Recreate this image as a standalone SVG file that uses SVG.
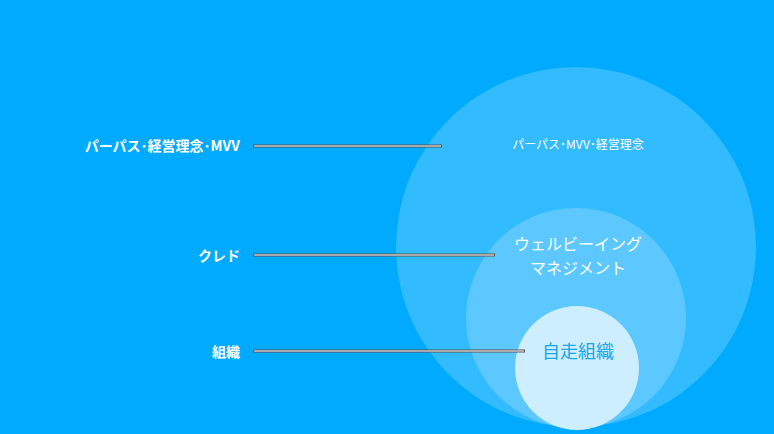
<svg xmlns="http://www.w3.org/2000/svg" width="774" height="434" viewBox="0 0 774 434">
<style>
text{font-family:"Noto Sans CJK JP","Noto Sans",sans-serif}
.lbl{fill:#fff;font-size:14px;font-weight:bold;text-anchor:end}
.o{stroke:#555;stroke-width:3}
.i{stroke:#fff;stroke-width:1}
</style>
<rect width="774" height="434" fill="#00AAFF"/>
<g id="purpose"><circle cx="576" cy="247" r="180" fill="#33BBFF"/><text x="578" y="149" fill="#fff" font-size="12" text-anchor="middle">パーパス･MVV･経営理念</text></g>
<g id="wellbeing"><circle cx="576" cy="318" r="110" fill="#5CC8FF"/><text x="578" y="250" fill="#fff" font-size="16" text-anchor="middle">ウェルビーイング</text><text x="578" y="274" fill="#fff" font-size="16" text-anchor="middle">マネジメント</text></g>
<g id="org"><circle cx="577" cy="368" r="62" fill="#CCEEFF"/><text x="578" y="358" fill="#1AA5E8" font-size="18" text-anchor="middle">自走組織</text></g>
<g id="labels"><text class="lbl" x="240" y="151">パーパス･経営理念･MVV</text><text class="lbl" x="240" y="261">クレド</text><text class="lbl" x="240" y="357">組織</text></g>
<g id="connectors">
<line class="o" x1="253" y1="146" x2="442" y2="146"/><line class="i" x1="254" y1="146" x2="441" y2="146"/>
<line class="o" x1="253" y1="255" x2="495" y2="255"/><line class="i" x1="254" y1="255" x2="494" y2="255"/>
<line class="o" x1="253" y1="351" x2="525" y2="351"/><line class="i" x1="254" y1="351" x2="524" y2="351"/>
</g>
</svg>
